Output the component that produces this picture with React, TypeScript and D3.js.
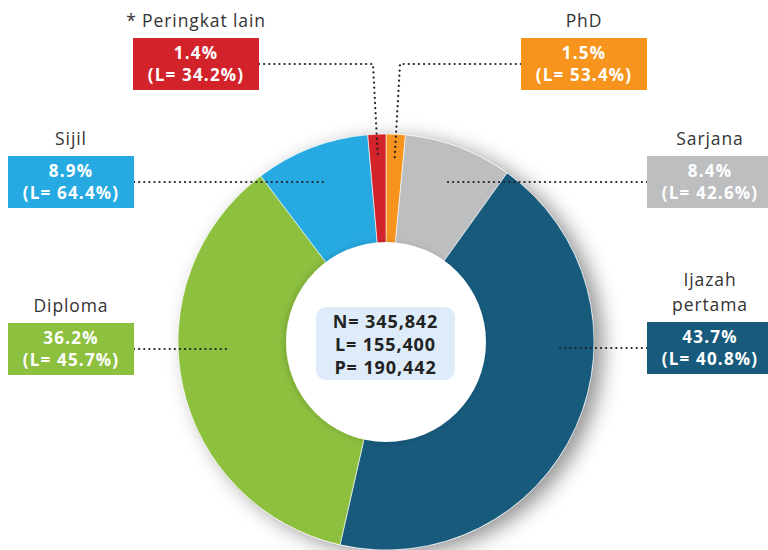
import * as d3 from "d3";

// categories in pie order, clockwise from 12 o'clock
const categories = ["PhD", "Sarjana", "Ijazah pertama", "Diploma", "Sijil", "* Peringkat lain"];
const shares = [1.5, 8.4, 43.7, 36.2, 8.9, 1.4];
const lShares = [53.4, 42.6, 40.8, 45.7, 64.4, 34.2];
const colors = ["#f7941d", "#bcbec0", "#175a7c", "#8dc03f", "#27aae1", "#d2232a"];
const totals = ["N= 345,842", "L= 155,400", "P= 190,442"];

// annotation layout: box x/y, label lines, where the leader ends
const layout = [
  { box: [521, 38], label: ["PhD"], elbow: true, lineX: 400 },
  { box: [647, 156], label: ["Sarjana"], lineTo: 443 },
  { box: [647, 322], label: ["Ijazah", "pertama"], lineTo: 560 },
  { box: [8, 323], label: ["Diploma"], lineTo: 230 },
  { box: [8, 156], label: ["Sijil"], lineTo: 325 },
  { box: [133, 38], label: ["* Peringkat lain"], elbow: true, lineX: 373 },
];

const W = 768;
const H = 550;
const cx = 386;
const cy = 342;
const outerR = 208;
const innerR = 100;
const boxW = 126;
const boxH = 52;
const font = "'Open Sans', 'DejaVu Sans', sans-serif";

export default function App() {
  const pie = d3.pie<number>().sort(null).value(d => d);
  const arcs = pie(shares);
  const arc = d3.arc<d3.PieArcDatum<number>>().innerRadius(0).outerRadius(outerR);
  const fmt = d3.format(".1f");

  return (
    <svg width={W} height={H} style={{ position: "absolute", left: 0, top: 0, background: "#fff" }} fontFamily={font}>
      <defs>
        <filter id="shadow" x="-30%" y="-30%" width="160%" height="160%">
          <feDropShadow dx="9" dy="5" stdDeviation="10" floodColor="#000" floodOpacity="0.42" />
        </filter>
        <filter id="shadowIn" x="-30%" y="-30%" width="160%" height="160%">
          <feDropShadow dx="-2" dy="0" stdDeviation="3" floodColor="#000" floodOpacity="0.15" />
        </filter>
      </defs>

      <g transform={`translate(${cx},${cy})`}>
        <circle r={outerR} fill="#fff" filter="url(#shadow)" />
        {arcs.map((a, i) => (
          <path key={i} d={arc(a) || ""} fill={colors[i]} stroke="#fff" strokeWidth={0.6} />
        ))}
        <circle r={innerR} fill="#fff" filter="url(#shadowIn)" />
      </g>

      {/* leader lines */}
      {layout.map((l, i) => {
        const [bx, by] = l.box;
        const ly = by + boxH / 2;
        const fromLeft = bx > cx;
        const sx = fromLeft ? bx : bx + boxW;
        let d: string;
        if (l.elbow) {
          const a = arcs[i];
          const mid = (a.startAngle + a.endAngle) / 2;
          const ex = cx + Math.sin(mid) * 185;
          const ey = cy - Math.cos(mid) * 185;
          d = `M${sx},${ly}H${l.lineX}L${ex},${ey}`;
        } else {
          d = `M${sx},${ly}H${l.lineTo}`;
        }
        return (
          <path key={"l" + i} d={d} fill="none" stroke="#222" strokeWidth={2.2}
            strokeDasharray="0.1 5" strokeLinecap="round" />
        );
      })}

      {/* boxes and labels */}
      {layout.map((l, i) => {
        const [bx, by] = l.box;
        const tx = bx + boxW / 2;
        const n = l.label.length;
        return (
          <g key={"b" + i}>
            {l.label.map((t, j) => (
              <text key={j} x={tx} y={by - 11 - (n - 1 - j) * 25} textAnchor="middle"
                fontSize={17.5} letterSpacing={0.9} fill="#333">{t}</text>
            ))}
            <rect x={bx} y={by} width={boxW} height={boxH} fill={colors[i]} />
            <text x={tx} y={by + 21} textAnchor="middle" fontSize={17} letterSpacing={1.2} fontWeight={700} fill="#fff">
              {fmt(shares[i])}%
            </text>
            <text x={tx} y={by + 43} textAnchor="middle" fontSize={17} letterSpacing={1.2} fontWeight={700} fill="#fff">
              (L= {fmt(lShares[i])}%)
            </text>
          </g>
        );
      })}

      {/* centre totals */}
      <rect x={316} y={307} width={139} height={73} rx={10} fill="#ddecf8" />
      {totals.map((t, i) => (
        <text key={"t" + i} x={cx - 0.5} y={328 + i * 23} textAnchor="middle" fontSize={18} letterSpacing={0.9} fontWeight={700} fill="#222">
          {t}
        </text>
      ))}
    </svg>
  );
}
